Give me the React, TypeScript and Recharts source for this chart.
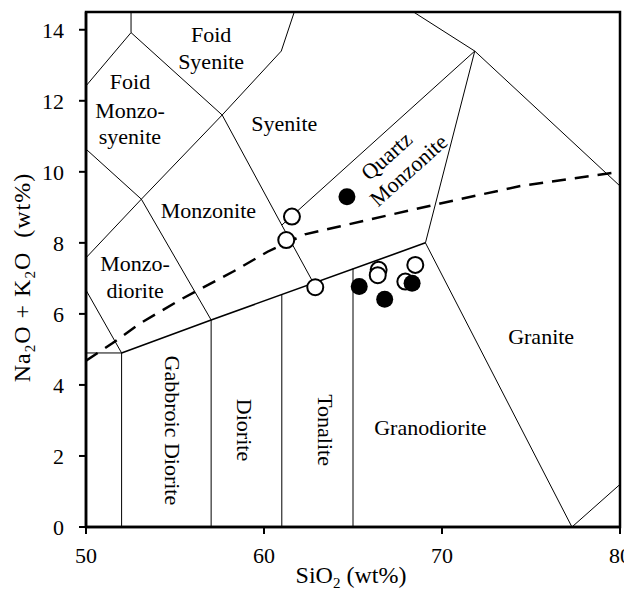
import React from "react";
import {
  ScatterChart,
  Scatter,
  XAxis,
  YAxis,
  ReferenceArea,
  Label,
} from "recharts";

// Field boundaries (SiO2, Na2O+K2O)
const foidSyeniteBase = [
  { x: 50, y: 12.42 },
  { x: 52.53, y: 13.92 },
  { x: 57.65, y: 11.6 },
];
const foidTopDivider = [
  { x: 52.53, y: 13.92 },
  { x: 52.53, y: 14.5 },
];
const monzoniteUpper = [
  { x: 50, y: 7.58 },
  { x: 53.11, y: 9.23 },
  { x: 57.65, y: 11.6 },
  { x: 60.97, y: 13.4 },
  { x: 61.7, y: 14.5 },
];
const monzodioriteUpper = [
  { x: 50, y: 10.64 },
  { x: 53.11, y: 9.23 },
  { x: 57.03, y: 5.83 },
];
const syeniteLower = [
  { x: 57.65, y: 11.6 },
  { x: 61.0, y: 8.5 },
  { x: 62.8, y: 6.85 },
];
const quartzMonzoniteUpper = [
  { x: 61.0, y: 8.5 },
  { x: 71.84, y: 13.4 },
];
const graniteLeft = [
  { x: 68.4, y: 14.5 },
  { x: 71.84, y: 13.4 },
  { x: 69.07, y: 8.0 },
  { x: 77.3, y: 0 },
  { x: 80, y: 1.2 },
];
const graniteUpper = [
  { x: 71.84, y: 13.4 },
  { x: 80, y: 9.6 },
];
const gabbroCorner = [
  { x: 50, y: 6.67 },
  { x: 52, y: 4.9 },
];
const gabbroTop = [
  { x: 50, y: 4.9 },
  { x: 52, y: 4.9 },
];
const plutonicUpper = [
  { x: 52, y: 4.9 },
  { x: 57.03, y: 5.83 },
  { x: 69.07, y: 8.0 },
];
const verticals = [
  [{ x: 52, y: 0 }, { x: 52, y: 4.9 }],
  [{ x: 57.03, y: 0 }, { x: 57.03, y: 5.83 }],
  [{ x: 61, y: 0 }, { x: 61, y: 6.55 }],
  [{ x: 65, y: 0 }, { x: 65, y: 7.28 }],
];

// Alkaline / subalkaline divide (dashed)
const alkalineDivide = [
  { x: 50, y: 4.68 },
  { x: 51.5, y: 5.18 },
  { x: 53, y: 5.72 },
  { x: 55.3, y: 6.4 },
  { x: 58.3, y: 7.2 },
  { x: 60.2, y: 7.75 },
  { x: 62.3, y: 8.24 },
  { x: 64.3, y: 8.47 },
  { x: 69.9, y: 9.11 },
  { x: 74.4, y: 9.6 },
  { x: 80, y: 10.0 },
];

// Samples
const openSamples = [
  { x: 61.57, y: 8.74 },
  { x: 61.25, y: 8.08 },
  { x: 62.88, y: 6.75 },
  { x: 66.44, y: 7.24 },
  { x: 66.39, y: 7.09 },
  { x: 68.5, y: 7.38 },
  { x: 67.94, y: 6.91 },
];
const filledSamples = [
  { x: 64.66, y: 9.3 },
  { x: 68.32, y: 6.86 },
  { x: 65.35, y: 6.77 },
  { x: 66.78, y: 6.41 },
];

// Field names
const fieldLabels = [
  { x: 57.03, y: 13.88, text: "Foid", angle: 0 },
  { x: 57.03, y: 13.12, text: "Syenite", angle: 0 },
  { x: 52.47, y: 12.56, text: "Foid", angle: 0 },
  { x: 52.47, y: 11.74, text: "Monzo-", angle: 0 },
  { x: 52.47, y: 11.0, text: "syenite", angle: 0 },
  { x: 61.14, y: 11.37, text: "Syenite", angle: 0 },
  { x: 66.87, y: 10.45, text: "Quartz", angle: -42 },
  { x: 68.11, y: 10.05, text: "Monzonite", angle: -42 },
  { x: 56.88, y: 8.92, text: "Monzonite", angle: 0 },
  { x: 52.76, y: 7.42, text: "Monzo-", angle: 0 },
  { x: 52.76, y: 6.67, text: "diorite", angle: 0 },
  { x: 54.89, y: 2.72, text: "Gabbroic Diorite", angle: 90 },
  { x: 58.94, y: 2.73, text: "Diorite", angle: 90 },
  { x: 63.44, y: 2.73, text: "Tonalite", angle: 90 },
  { x: 69.35, y: 2.82, text: "Granodiorite", angle: 0 },
  { x: 75.57, y: 5.36, text: "Granite", angle: 0 },
];

const xTicks = [50, 60, 70, 80];
const yTicks = [0, 2, 4, 6, 8, 10, 12, 14];

const FONT = "Liberation Serif, Times New Roman, serif";

const noDot = () => <g />;

const OpenDot = (props: any) => (
  <circle cx={props.cx} cy={props.cy} r={8} fill="#fff" stroke="#000" strokeWidth={2} />
);
const FilledDot = (props: any) => (
  <circle cx={props.cx} cy={props.cy} r={8.5} fill="#000" />
);
const FieldText = (props: any) => {
  const { cx, cy, payload } = props;
  return (
    <text
      x={cx}
      y={cy}
      dy="0.35em"
      textAnchor="middle"
      fontFamily={FONT}
      fontSize={22}
      fill="#000"
      transform={payload.angle ? `rotate(${payload.angle}, ${cx}, ${cy})` : undefined}
    >
      {payload.text}
    </text>
  );
};

const YTitle = (props: any) => {
  const vb = props.viewBox;
  const x = vb.x + 22;
  const y = vb.y + vb.height / 2 + 8;
  return (
    <text
      x={x}
      y={y}
      transform={`rotate(-90, ${x}, ${y})`}
      textAnchor="middle"
      fontFamily={FONT}
      fontSize={24}
      letterSpacing={1}
      fill="#000"
    >
      Na<tspan fontSize={15} dy={5}>2</tspan>
      <tspan dy={-5}>O + K</tspan>
      <tspan fontSize={15} dy={5}>2</tspan>
      <tspan dy={-5}>O</tspan>
      <tspan dx={14}>(wt%)</tspan>
    </text>
  );
};

const XTitle = (props: any) => {
  const vb = props.viewBox;
  const x = vb.x + vb.width / 2 - 2;
  const y = vb.y + 56;
  return (
    <text x={x} y={y} textAnchor="middle" fontFamily={FONT} fontSize={24} fill="#000">
      SiO<tspan fontSize={15} dy={5}>2</tspan>
      <tspan dy={-5}> (wt%)</tspan>
    </text>
  );
};

const thin = { stroke: "#000", strokeWidth: 1 };

export default function App() {
  const tickStyle = { fontFamily: FONT, fontSize: 22, fill: "#000" };
  return (
    <div style={{ fontFamily: FONT, width: 624, height: 585 }}>
      <ScatterChart
        width={624}
        height={585}
        margin={{ top: 4, right: 12, bottom: 36, left: 0 }}
      >
        <XAxis
          type="number"
          dataKey="x"
          domain={[50, 80]}
          ticks={xTicks}
          allowDataOverflow
          height={30}
          tickSize={7}
          tickMargin={13}
          tick={tickStyle}
          axisLine={{ stroke: "#000", strokeWidth: 2.5 }}
          tickLine={{ stroke: "#000", strokeWidth: 2 }}
        >
          <Label content={XTitle} />
        </XAxis>
        <YAxis
          type="number"
          dataKey="y"
          domain={[0, 14.5]}
          ticks={yTicks}
          allowDataOverflow
          width={78}
          tickSize={7}
          tickMargin={15}
          tick={tickStyle}
          axisLine={{ stroke: "#000", strokeWidth: 2.5 }}
          tickLine={{ stroke: "#000", strokeWidth: 2 }}
        >
          <Label content={YTitle} />
        </YAxis>
        <ReferenceArea
          x1={50}
          x2={80}
          y1={0}
          y2={14.5}
          fill="none"
          fillOpacity={0}
          stroke="#000"
          strokeWidth={2.5}
        />
        {[
          foidSyeniteBase,
          foidTopDivider,
          monzoniteUpper,
          monzodioriteUpper,
          syeniteLower,
          quartzMonzoniteUpper,
          graniteLeft,
          graniteUpper,
          gabbroCorner,
          gabbroTop,
          ...verticals,
        ].map((seg, i) => (
          <Scatter
            key={`b-${i}`}
            data={seg}
            line={thin}
            shape={noDot}
            isAnimationActive={false}
          />
        ))}
        <Scatter
          data={plutonicUpper}
          line={{ stroke: "#000", strokeWidth: 1.6 }}
          shape={noDot}
          isAnimationActive={false}
        />
        <Scatter
          data={alkalineDivide}
          line={{ stroke: "#000", strokeWidth: 2.5, strokeDasharray: "14 9" }}
          shape={noDot}
          isAnimationActive={false}
        />
        <Scatter data={fieldLabels} shape={FieldText} isAnimationActive={false} />
        <Scatter data={openSamples} shape={OpenDot} isAnimationActive={false} />
        <Scatter data={filledSamples} shape={FilledDot} isAnimationActive={false} />
      </ScatterChart>
    </div>
  );
}
